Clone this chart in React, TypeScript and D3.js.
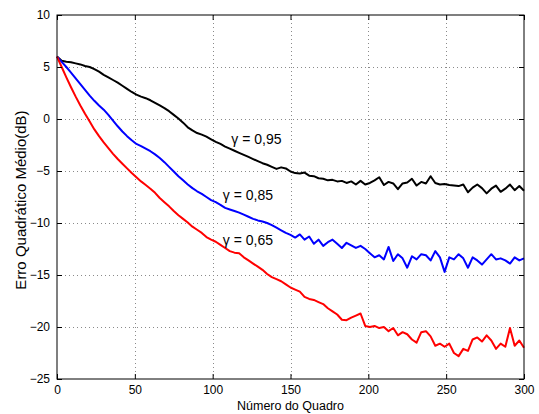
import React, { useEffect, useRef } from 'react';
import * as d3 from 'd3';

// frame index of each sample
const frames = [
  0, 3, 6, 9, 12, 15, 18, 21, 24, 27,
  30, 33, 36, 39, 42, 45, 48, 51, 54, 57,
  60, 63, 66, 69, 72, 75, 78, 81, 84, 87,
  90, 93, 96, 99, 102, 105, 108, 111, 114, 117,
  120, 123, 126, 129, 132, 135, 138, 141, 144, 147,
  150, 153, 156, 159, 162, 165, 168, 171, 174, 177,
  180, 183, 186, 189, 192, 195, 198, 201, 204, 207,
  210, 213, 216, 219, 222, 225, 228, 231, 234, 237,
  240, 243, 246, 249, 252, 255, 258, 261, 264, 267,
  270, 273, 276, 279, 282, 285, 288, 291, 294, 297,
  300,
];

// erro quadratico medio (dB), gamma = 0,95
const mse95 = [
  6.0, 5.6, 5.5, 5.45, 5.35, 5.25, 5.1, 5.0, 4.8, 4.55,
  4.25, 4.0, 3.75, 3.5, 3.2, 2.9, 2.6, 2.35, 2.15, 2.0,
  1.8, 1.55, 1.3, 1.05, 0.75, 0.4, 0.05, -0.35, -0.8, -1.1,
  -1.35, -1.5, -1.7, -1.95, -2.2, -2.4, -2.65, -2.85, -3.05, -3.25,
  -3.45, -3.65, -3.85, -4.05, -4.25, -4.4, -4.6, -4.8, -4.65, -4.75,
  -5.05, -5.2, -5.25, -5.15, -5.45, -5.5, -5.7, -5.75, -5.9, -5.85,
  -6.0, -5.95, -6.15, -6.0, -6.3, -5.95, -6.3, -6.15, -5.9, -5.6,
  -6.35, -6.05, -6.2, -6.75, -6.2, -6.1, -5.75, -6.4, -6.05, -6.2,
  -5.5, -6.15, -6.3, -6.25, -6.35, -6.4, -6.45, -6.3, -7.05, -6.6,
  -6.3, -6.65, -7.15, -6.7, -6.4, -7.0, -6.7, -6.3, -6.85, -6.45,
  -6.9,
];

// gamma = 0,85
const mse85 = [
  6.0, 5.5, 5.0, 4.45, 3.9, 3.35, 2.8, 2.25, 1.75, 1.3,
  0.9, 0.4, -0.15, -0.7, -1.2, -1.65, -2.05, -2.4, -2.6, -2.85,
  -3.1, -3.4, -3.75, -4.15, -4.6, -5.05, -5.5, -5.9, -6.3, -6.65,
  -6.95, -7.2, -7.5, -7.8, -8.0, -8.25, -8.55, -8.7, -8.85, -9.0,
  -9.2, -9.4, -9.6, -9.75, -9.85, -10.0, -10.2, -10.45, -10.7, -10.95,
  -11.15, -11.4, -11.1, -11.6, -11.3, -12.0, -11.6, -12.2, -11.85, -11.6,
  -12.0, -12.4, -11.9, -12.15, -12.4, -12.2, -12.5, -12.9, -13.3, -13.1,
  -13.5, -12.3, -13.65, -13.0, -13.4, -14.3, -13.2, -13.5, -13.0, -13.1,
  -13.6, -12.7, -13.3, -14.7, -13.3, -13.5, -13.0, -13.4, -14.3, -13.3,
  -13.6, -14.0, -13.5, -13.0, -13.5, -13.4, -13.6, -13.9, -13.3, -13.6,
  -13.4,
];

// gamma = 0,65
const mse65 = [
  6.0, 5.0, 4.0, 3.05, 2.15, 1.3, 0.5, -0.25, -1.0, -1.65,
  -2.25, -2.8, -3.35, -3.85, -4.3, -4.75, -5.2, -5.6, -6.0, -6.35,
  -6.7, -7.1, -7.6, -8.0, -8.4, -8.85, -9.25, -9.6, -9.95, -10.35,
  -10.65, -10.95, -11.35, -11.6, -11.8, -12.1, -12.4, -12.7, -12.85, -12.9,
  -13.3, -13.6, -13.9, -14.2, -14.5, -14.9, -15.2, -15.4, -15.6, -15.9,
  -16.2, -16.4, -16.6, -17.1, -17.3, -17.4, -17.6, -17.8, -18.2, -18.5,
  -18.8, -19.3, -19.35, -19.1, -18.9, -18.7, -19.9, -20.0, -19.9, -20.1,
  -20.0, -20.4, -20.1, -20.8, -20.5, -20.7, -21.2, -21.5, -20.5, -20.4,
  -20.9, -21.8, -21.6, -21.9, -21.6, -22.5, -22.8, -22.1, -22.3, -21.2,
  -21.0, -21.4, -20.8, -21.3, -22.1, -21.6, -21.9, -20.1, -21.8, -21.3,
  -22.0,
];

const seriesData = [mse95, mse85, mse65];
const seriesColors = ['#000000', '#0000ff', '#ff0000'];

const xTicks = [0, 50, 100, 150, 200, 250, 300];
const yTicks = [-25, -20, -15, -10, -5, 0, 5, 10];

const labelTexts = ['γ = 0,95', 'γ = 0,85', 'γ = 0,65'];
const labelFrames = [112, 106.5, 106.5];
const labelValues = [-2.4, -7.8, -12.1];

const App = () => {
  const ref = useRef<SVGSVGElement>(null);

  useEffect(() => {
    const width = 539;
    const height = 414;
    const margin = { top: 15, right: 15, bottom: 35, left: 57 };
    const font = '"Liberation Sans", Arial, Helvetica, sans-serif';

    const svg = d3.select(ref.current);
    svg.selectAll('*').remove();
    svg.attr('width', width).attr('height', height);

    svg.append('rect')
      .attr('width', width)
      .attr('height', height)
      .attr('fill', '#fff');

    const x = d3.scaleLinear()
      .domain([0, 300])
      .range([margin.left, width - margin.right]);
    const y = d3.scaleLinear()
      .domain([-25, 10])
      .range([height - margin.bottom, margin.top]);

    // dotted grid
    const grid = svg.append('g')
      .attr('stroke', '#8a8a8a')
      .attr('stroke-width', 1)
      .attr('stroke-dasharray', '1,3');
    grid.selectAll('line.gx')
      .data(xTicks.slice(1, -1))
      .enter().append('line')
      .attr('x1', d => Math.round(x(d)) + 0.5)
      .attr('x2', d => Math.round(x(d)) + 0.5)
      .attr('y1', y(10))
      .attr('y2', y(-25));
    grid.selectAll('line.gy')
      .data(yTicks.slice(1, -1))
      .enter().append('line')
      .attr('y1', d => Math.round(y(d)) + 0.5)
      .attr('y2', d => Math.round(y(d)) + 0.5)
      .attr('x1', x(0))
      .attr('x2', x(300));

    // curves
    const line = d3.line<number>()
      .x((d, i) => x(frames[i]))
      .y(d => y(d));

    svg.append('g')
      .selectAll('path')
      .data(seriesData)
      .enter().append('path')
      .attr('d', d => line(d))
      .attr('fill', 'none')
      .attr('stroke', (d, i) => seriesColors[i])
      .attr('stroke-width', 2)
      .attr('stroke-linejoin', 'round');

    // axes, ticks pointing inwards on every side
    const fmt = (d: d3.NumberValue) => d3.format('d')(d as number).replace('-', '\u2212');
    const styleAxis = (g: d3.Selection<SVGGElement, unknown, null, undefined>) => {
      g.select('.domain').remove();
      g.selectAll('line').attr('stroke', '#000');
      g.selectAll('text')
        .attr('fill', '#000')
        .style('font-family', font)
        .style('font-size', '12px');
    };

    svg.append('g')
      .attr('transform', `translate(0,${y(-25)})`)
      .call(d3.axisBottom(x).tickValues(xTicks).tickSize(-5).tickPadding(6).tickFormat(fmt))
      .call(styleAxis);
    svg.append('g')
      .attr('transform', `translate(0,${y(10)})`)
      .call(d3.axisTop(x).tickValues(xTicks).tickSize(-5).tickFormat(() => ''))
      .call(styleAxis);
    svg.append('g')
      .attr('transform', `translate(${x(0)},0)`)
      .call(d3.axisLeft(y).tickValues(yTicks).tickSize(-5).tickPadding(7).tickFormat(fmt))
      .call(styleAxis);
    svg.append('g')
      .attr('transform', `translate(${x(300)},0)`)
      .call(d3.axisRight(y).tickValues(yTicks).tickSize(-5).tickFormat(() => ''))
      .call(styleAxis);

    svg.append('rect')
      .attr('x', x(0))
      .attr('y', y(10))
      .attr('width', x(300) - x(0))
      .attr('height', y(-25) - y(10))
      .attr('fill', 'none')
      .attr('stroke', '#000')
      .attr('stroke-width', 1);

    // curve annotations
    svg.append('g')
      .selectAll('text')
      .data(labelTexts)
      .enter().append('text')
      .attr('x', (d, i) => x(labelFrames[i]))
      .attr('y', (d, i) => y(labelValues[i]))
      .style('font-family', font)
      .style('font-size', '14px')
      .text(d => d);

    svg.append('text')
      .attr('x', (x(0) + x(300)) / 2)
      .attr('y', 410)
      .attr('text-anchor', 'middle')
      .style('font-family', font)
      .style('font-size', '12.5px')
      .text('Número do Quadro');

    svg.append('text')
      .attr('transform', `translate(26,${(y(10) + y(-25)) / 2 + 3}) rotate(-90)`)
      .attr('text-anchor', 'middle')
      .style('font-family', font)
      .style('font-size', '15px')
      .text('Erro Quadrático Médio(dB)');
  }, []);

  return (
    <div style={{ position: 'absolute', left: 0, top: 0 }}>
      <svg ref={ref} style={{ display: 'block' }}></svg>
    </div>
  );
};

export default App;
